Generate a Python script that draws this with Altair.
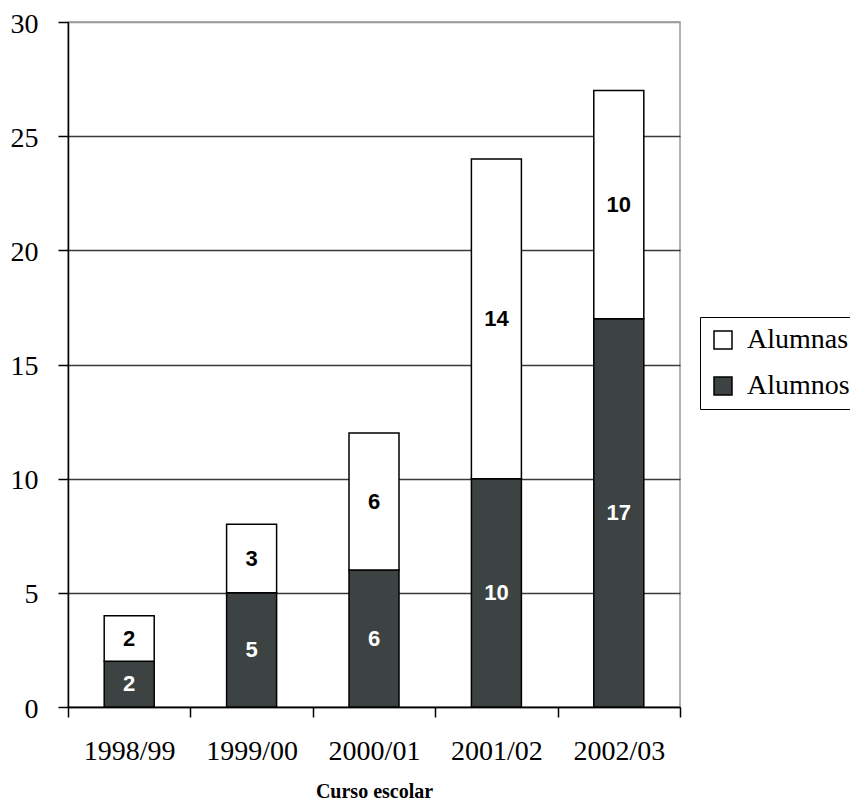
import altair as alt
import pandas as pd

cursos = ["1998/99", "1999/00", "2000/01", "2001/02", "2002/03"]
alumnos = [2, 5, 6, 10, 17]
alumnas = [2, 3, 6, 14, 10]
series = ["Alumnas", "Alumnos"]
colores = ["#ffffff", "#3d4342"]

rows = []
for c, a, b in zip(cursos, alumnos, alumnas):
    rows.append({"curso": c, "sexo": "Alumnos", "valor": a, "orden": 0})
    rows.append({"curso": c, "sexo": "Alumnas", "valor": b, "orden": 1})
df = pd.DataFrame(rows)

serif = "'Liberation Serif', 'Times New Roman', serif"
sans = "'Liberation Sans', Arial, sans-serif"

x = alt.X(
    "curso:N",
    sort=cursos,
    scale=alt.Scale(paddingInner=0, paddingOuter=0),
    axis=alt.Axis(
        title="Curso escolar",
        titleFont=serif,
        titleFontSize=20,
        titleFontWeight="bold",
        titleColor="black",
        titlePadding=16,
        labelFont=serif,
        labelFontSize=28,
        labelColor="black",
        labelAngle=0,
        labelPadding=20,
        tickBand="extent",
        tickSize=10,
        tickColor="black",
        tickWidth=1.5,
        domainColor="black",
        domainWidth=1.5,
        grid=False,
    ),
)

y_axis = alt.Axis(
    title=None,
    values=[0, 5, 10, 15, 20, 25, 30],
    labelFont=serif,
    labelFontSize=28,
    labelColor="black",
    labelPadding=20,
    labelOffset=2,
    tickSize=10,
    tickColor="black",
    tickWidth=1.5,
    domainColor="black",
    domainWidth=1.5,
    grid=True,
    gridColor={"condition": {"test": "datum.value === 30", "value": "#999999"}, "value": "#3a3a3a"},
    gridWidth=1.3,
)

bars = alt.Chart(df).mark_bar(size=50, stroke="black", strokeWidth=1.5).encode(
    x=x,
    y=alt.Y("valor:Q", stack="zero", scale=alt.Scale(domain=[0, 30], nice=False), axis=y_axis),
    color=alt.Color(
        "sexo:N",
        scale=alt.Scale(domain=series, range=colores),
        legend=alt.Legend(
            title=None,
            orient="none",
            legendX=632,
            legendY=295,
            labelFont=serif,
            labelFontSize=28,
            labelColor="black",
            labelOffset=10,
            labelLimit=300,
            symbolType="square",
            symbolSize=324,
            symbolStrokeColor="black",
            symbolStrokeWidth=1.5,
            symbolOpacity=1,
            rowPadding=18,
            padding=9,
            strokeColor="black",
            fillColor="white",
        ),
    ),
    order=alt.Order("orden:Q", sort="ascending"),
)

labels = alt.Chart(df).transform_stack(
    stack="valor", groupby=["curso"], as_=["y0", "y1"], sort=[alt.SortField("orden", order="ascending")]
).transform_calculate(
    mid="(datum.y0 + datum.y1) / 2"
).mark_text(
    font=sans, fontSize=22, fontWeight="bold", baseline="middle", align="center"
).encode(
    x=alt.X("curso:N", sort=cursos),
    y=alt.Y("mid:Q"),
    text=alt.Text("valor:Q"),
    color=alt.condition("datum.sexo === 'Alumnos'", alt.value("white"), alt.value("black")),
)

chart = alt.layer(bars, labels).properties(
    width=612,
    height=685,
    autosize=alt.AutoSizeParams(type="none"),
    padding={"left": 60, "top": 14, "right": 170, "bottom": 94},
    background="white",
).configure_view(stroke="#999999", strokeWidth=1.5)

chart.save("out.html", embed_options={"renderer": "svg", "actions": False})
